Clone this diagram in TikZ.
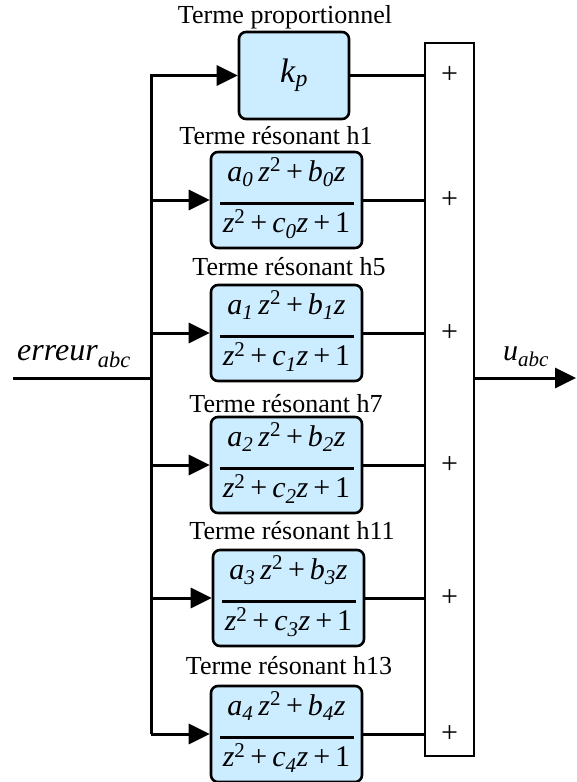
\documentclass[tikz,border=0pt]{standalone}
\usepackage{fontspec}
\setmainfont{Liberation Serif}
\usetikzlibrary{arrows.meta,positioning}
\definecolor{tfblue}{RGB}{204,236,255}

\newcommand{\resnum}[1]{\textit{a}\textsubscript{\textit{#1}}\,\textit{z}\textsuperscript{2}\,+\,\textit{b}\textsubscript{\textit{#1}}\textit{z}}
\newcommand{\resden}[1]{\textit{z}\textsuperscript{2}\,+\,\textit{c}\textsubscript{\textit{#1}}\textit{z}\,+\,1}
\newcommand{\resfrac}[2]{\begin{tabular}{@{}c@{}}#1\\[-6pt]\rule{134pt}{2.6pt}\\[-4pt]#2\end{tabular}}

\begin{document}
\begin{tikzpicture}[x=1pt,y=-1pt,
  tfbox/.style={draw,line width=2.6pt,fill=tfblue,rounded corners=7pt,inner sep=0pt,
    minimum width=151pt,minimum height=96pt,font=\fontsize{30}{30}\selectfont},
  termlbl/.style={inner sep=0pt,font=\fontsize{26}{28}\selectfont},
  iolbl/.style={inner sep=0pt,font=\fontsize{32}{34}\selectfont},
  plus/.style={inner sep=0pt,font=\fontsize{30}{32}\selectfont},
  wire/.style={line width=3pt},
  arr/.style={wire,-{Triangle[length=21pt,width=20pt]}}]
  \useasboundingbox (0,0) rectangle (576,782);

  % blocks
  \node[tfbox,minimum width=110pt,minimum height=87pt,font=\fontsize{34}{36}\selectfont]
        (kp) at (294,75.5) {\textit{k}\textsubscript{\textit{p}}};
  \node[tfbox] (h1)  at (286.5,200) {\resfrac{\resnum{0}}{\resden{0}}};
  \node[tfbox] (h5)  at (286.5,333) {\resfrac{\resnum{1}}{\resden{1}}};
  \node[tfbox] (h7)  at (286.5,465) {\resfrac{\resnum{2}}{\resden{2}}};
  \node[tfbox] (h11) at (288.5,598) {\resfrac{\resnum{3}}{\resden{3}}};
  \node[tfbox] (h13) at (286.5,734) {\resfrac{\resnum{4}}{\resden{4}}};

  \node[termlbl] (lkp)  at (285,17)  {Terme proportionnel};
  \node[termlbl] (lh1)  at (276,136) {Terme résonant h1};
  \node[termlbl] (lh5)  at (289,267) {Terme résonant h5};
  \node[termlbl] (lh7)  at (286,404) {Terme résonant h7};
  \node[termlbl] (lh11) at (292,531) {Terme résonant h11};
  \node[termlbl] (lh13) at (289,666) {Terme résonant h13};

  % sum
  \node[draw,line width=2.6pt,minimum width=49pt,minimum height=713pt,inner sep=0pt]
        (sum) at (449.5,399.5) {};
  \node[plus] (p0) at (sum |- kp)  {+};
  \node[plus] (p1) at (sum |- h1)  {+};
  \node[plus] (p2) at (sum |- h5)  {+};
  \node[plus] (p3) at (sum |- h7)  {+};
  \node[plus] (p4) at (sum |- h11) {+};
  \node[plus] (p5) at (sum |- h13) {+};

  % input / output
  \coordinate (in)  at (13,378);
  \coordinate (bus) at (151,378);
  \coordinate (out) at (576,378);
  \node[iolbl] (err) at (74,357) {\textit{erreur}\textsubscript{\textit{abc}}};
  \node[iolbl,font=\fontsize{30}{32}\selectfont] (uabc) at (526,357) {\textit{u}\textsubscript{\textit{abc}}};

  \draw[wire] (in) -- (bus);
  \draw[arr] (bus |- h13) -- (bus |- kp) -- (kp.west);
  \draw[arr] (bus |- h1)  -- (h1.west);
  \draw[arr] (bus |- h5)  -- (h5.west);
  \draw[arr] (bus |- h7)  -- (h7.west);
  \draw[arr] (bus |- h11) -- (h11.west);
  \draw[arr] (bus |- h13) -- (h13.west);

  \draw[wire] (kp.east)  -- (kp.east -| sum.west);
  \draw[wire] (h1.east)  -- (h1.east -| sum.west);
  \draw[wire] (h5.east)  -- (h5.east -| sum.west);
  \draw[wire] (h7.east)  -- (h7.east -| sum.west);
  \draw[wire] (h11.east) -- (h11.east -| sum.west);
  \draw[wire] (h13.east) -- (h13.east -| sum.west);
  \draw[arr] (sum.east |- bus) -- (out);
\end{tikzpicture}
\end{document}
